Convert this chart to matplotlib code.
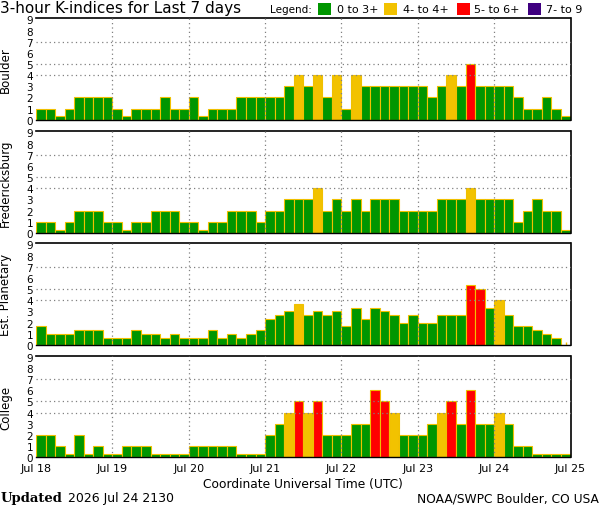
import numpy as np
import matplotlib
matplotlib.use("Agg")
import matplotlib.pyplot as plt
from matplotlib.patches import Rectangle

# 3-hour K-index values, 8 per day, Jul 18 .. Jul 24
stations = ["Boulder", "Fredericksburg", "Est. Planetary", "College"]
boulder = [1, 1, 0, 1, 2, 2, 2, 2,
           1, 0, 1, 1, 1, 2, 1, 1,
           2, 0, 1, 1, 1, 2, 2, 2,
           2, 2, 3, 4, 3, 4, 2, 4,
           1, 4, 3, 3, 3, 3, 3, 3,
           3, 2, 3, 4, 3, 5, 3, 3,
           3, 3, 2, 1, 1, 2, 1, 0]
fredericksburg = [1, 1, 0, 1, 2, 2, 2, 1,
                  1, 0, 1, 1, 2, 2, 2, 1,
                  1, 0, 1, 1, 2, 2, 2, 1,
                  2, 2, 3, 3, 3, 4, 2, 3,
                  2, 3, 2, 3, 3, 3, 2, 2,
                  2, 2, 3, 3, 3, 4, 3, 3,
                  3, 3, 1, 2, 3, 2, 2, 0]
planetary = [1.67, 1, 1, 1, 1.33, 1.33, 1.33, 0.67,
             0.67, 0.67, 1.33, 1, 1, 0.67, 1, 0.67,
             0.67, 0.67, 1.33, 0.67, 1, 0.67, 1, 1.33,
             2.33, 2.67, 3, 3.67, 2.67, 3, 2.67, 3,
             1.67, 3.33, 2.33, 3.33, 3, 2.67, 2, 2.67,
             2, 2, 2.67, 2.67, 2.67, 5.33, 5, 3.33,
             4, 2.67, 1.67, 1.67, 1.33, 1, 0.67, np.nan]
college = [2, 2, 1, 0, 2, 0, 1, 0,
           0, 1, 1, 1, 0, 0, 0, 0,
           1, 1, 1, 1, 1, 0, 0, 0,
           2, 3, 4, 5, 4, 5, 2, 2,
           2, 3, 3, 6, 5, 4, 2, 2,
           2, 3, 4, 5, 3, 6, 3, 3,
           4, 3, 1, 1, 0, 0, 0, 0]
day_labels = ["Jul 18", "Jul 19", "Jul 20", "Jul 21", "Jul 22", "Jul 23", "Jul 24", "Jul 25"]
legend_labels = ["0 to 3+", "4- to 4+", "5- to 6+", "7- to 9"]

GREEN = "#009600"
YELLOW = "#f2c200"
RED = "#ff0000"
PURPLE = "#3f0080"
EDGE = "#f0c000"
GRID = "#808080"

W, H = 600, 510


def kcolor(v):
    if v < 3.5:
        return GREEN
    if v < 4.5:
        return YELLOW
    if v < 6.5:
        return RED
    return PURPLE


def fig_rect(x0, y0, x1, y1):
    # pixel box (top-left origin) -> figure fraction [l, b, w, h]
    return [x0 / W, 1 - y1 / H, (x1 - x0) / W, (y1 - y0) / H]


fig = plt.figure(figsize=(6, 5.1), dpi=100)

panel_px = [(19.3, 120.7), (132.3, 234.0), (244.3, 346.0), (356.7, 458.3)]
series = [boulder, fredericksburg, planetary, college]

for k, (name, vals, (ytop, ybot)) in enumerate(zip(stations, series, panel_px)):
    ax = fig.add_axes(fig_rect(36, ytop, 570.5, ybot))
    vals = np.array(vals, dtype=float)
    x = np.arange(len(vals)) / 8.0
    ok = ~np.isnan(vals)
    # zero values still get a thin sliver, as in the NOAA plot
    heights = np.where(vals[ok] == 0, 0.3, vals[ok])
    ax.bar(x[ok], heights, width=1 / 8.0, align="edge",
           color=[kcolor(v) for v in vals[ok]], edgecolor=EDGE, linewidth=0.8, zorder=2)

    ax.set_xlim(0, 7)
    ax.set_ylim(0, 9.1)
    ax.set_yticks(range(10))
    ax.set_yticklabels([str(i) for i in range(10)], fontsize=7.5)
    ax.tick_params(axis="y", length=0, pad=2)

    # day grid and K=4,5,7 guide lines
    for d in range(1, 7):
        ax.axvline(d, color=GRID, linestyle=(0, (1, 2.5)), linewidth=0.9, zorder=3)
    for lev in (4, 5, 7):
        ax.axhline(lev, color=GRID, linestyle=(0, (1, 2.5)), linewidth=0.9, zorder=3)

    ax.set_xticks(range(8))
    ax.set_xticks(np.arange(56) / 8.0 + 1 / 16.0, minor=True)
    ax.tick_params(axis="x", which="minor", direction="in", length=2, width=1, color=EDGE)
    ax.tick_params(axis="x", which="major", length=0, pad=4)
    if k == len(stations) - 1:
        ax.set_xticklabels(day_labels, fontsize=8)
        ax.set_xlabel("Coordinate Universal Time (UTC)", fontsize=8.8, labelpad=3)
    else:
        ax.set_xticklabels([])

    ax.spines["left"].set_visible(False)
    ax.spines["top"].set_linewidth(1.2)
    ax.spines["bottom"].set_linewidth(1.0)
    ax.spines["right"].set_linestyle((0, (2, 1)))
    ax.spines["right"].set_linewidth(1.2)

    ax.set_ylabel(name, fontsize=8.5)
    ax.yaxis.set_label_coords(-0.045, 0.5)

# title and legend
fig.text(0 / W, 1 - 9 / H, "3-hour K-indices for Last 7 days", fontsize=11,
         ha="left", va="center")
fig.text(270 / W, 1 - 10 / H, "Legend:", fontsize=7.5, ha="left", va="center")
legend_colors = [GREEN, YELLOW, RED, PURPLE]
box_x = [318.3, 384.3, 456.7, 527.7]
text_x = [336.7, 403, 474.3, 546]
for c, bx, tx, lab in zip(legend_colors, box_x, text_x, legend_labels):
    l, b, w, h = fig_rect(bx, 4, bx + 13, 16)
    fig.add_artist(Rectangle((l, b), w, h, transform=fig.transFigure,
                             facecolor=c, edgecolor="none"))
    fig.text(tx / W, 1 - 10 / H, lab, fontsize=8, ha="left", va="center")

# footer
fig.text(1 / W, 1 - 499 / H, "Updated", fontsize=9.5, fontweight="bold",
         family="DejaVu Serif", ha="left", va="center")
fig.text(68 / W, 1 - 499 / H, "2026 Jul 24 2130", fontsize=9, ha="left", va="center")
fig.text(599 / W, 1 - 499 / H, "NOAA/SWPC Boulder, CO USA", fontsize=8.8,
         ha="right", va="center")

fig.savefig("out.png", dpi=100)
